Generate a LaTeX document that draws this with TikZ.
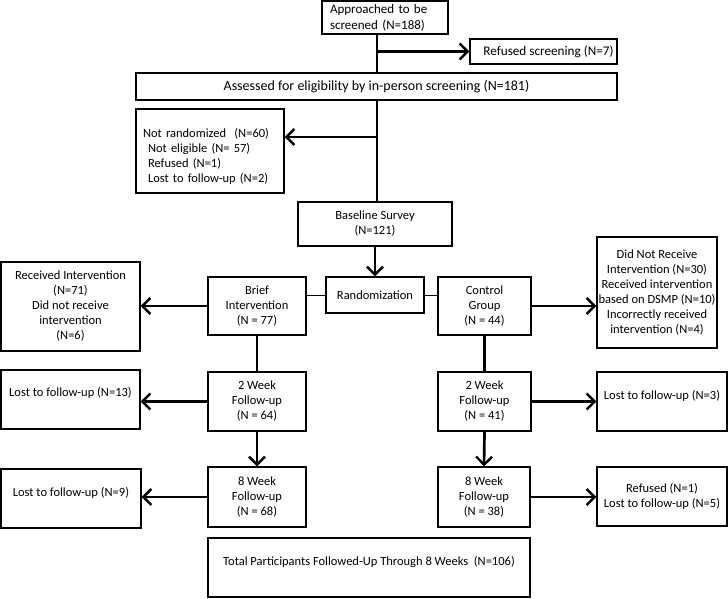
\documentclass[tikz,border=0pt]{standalone}
\usepackage{fontspec}
\setmainfont{Carlito}
\usetikzlibrary{arrows.meta}
\begin{document}
\begin{tikzpicture}[x=1pt,y=-1pt,
  box/.style={draw, line width=1.3pt, inner sep=0pt, align=center,
              font=\fontsize{12.5}{15}\selectfont},
  conn/.style={line width=2.7pt},
  arr/.style={conn, -{Straight Barb[length=8pt,width=16pt,line width=2.4pt]}},
  thinconn/.style={line width=1pt}]
\useasboundingbox (0,0) rectangle (728,598);
% boxes
\node[box, minimum width=126pt, minimum height=33pt, align=left, text width=110pt, font=\fontsize{13}{16}\selectfont] (top) at (385,17.5) {Approached to be\\screened (N=188)};
\node[box, minimum width=147pt, minimum height=25pt, font=\fontsize{13.2}{15}\selectfont] (refused) at (543.5,51.5) {\hspace*{10pt}Refused screening (N=7)};
\node[box, minimum width=481pt, minimum height=27pt, font=\fontsize{14}{15}\selectfont] (assess) at (376.5,86.5) {Assessed for eligibility by in-person screening (N=181)};
\node[box, minimum width=148pt, minimum height=84pt, align=left, text width=134pt] (nr) at (210,151) {\rule{0pt}{21pt}Not randomized~~(N=60)\\\hspace*{5pt}Not eligible (N= 57)\\\hspace*{5pt}Refused (N=1)\\\hspace*{5pt}Lost to follow-up (N=2)};
\node[box, minimum width=154pt, minimum height=44pt] (baseline) at (375,224) {Baseline Survey\\(N=121)};
\node[box, minimum width=98pt, minimum height=36pt] (rand) at (375,295) {Randomization};
\node[box, minimum width=98pt, minimum height=58pt] (brief) at (257,306) {Brief\\Intervention\\(N = 77)};
\node[box, minimum width=93pt, minimum height=58pt] (control) at (484.5,306) {Control\\Group\\(N = 44)};
\node[box, minimum width=139pt, minimum height=89pt] (recv) at (70.5,306.5) {Received Intervention\\(N=71)\\Did not receive\\intervention\\(N=6)};
\node[box, minimum width=120pt, minimum height=111pt] (dnr) at (657,292.5) {Did Not Receive\\Intervention (N=30)\\Received intervention\\based on DSMP (N=10)\\Incorrectly received\\intervention (N=4)};
\node[box, minimum width=98pt, minimum height=59pt] (wkl) at (257,401.5) {2 Week\\Follow-up\\(N = 64)};
\node[box, minimum width=139pt, minimum height=59pt, align=none, text depth=15pt] (lostl) at (70.5,399.5) {Lost to follow-up (N=13)};
\node[box, minimum width=93pt, minimum height=59pt] (wkr) at (484.5,401.5) {2 Week\\Follow-up\\(N = 41)};
\node[box, minimum width=130pt, minimum height=59pt, align=none, text depth=14pt] (lostr) at (662,401.5) {Lost to follow-up (N=3)};
\node[box, minimum width=98pt, minimum height=60pt] (wel) at (257,497) {8 Week\\Follow-up\\(N = 68)};
\node[box, minimum width=140pt, minimum height=59pt, align=none, text depth=13pt] (lostel) at (71,498.5) {Lost to follow-up (N=9)};
\node[box, minimum width=92pt, minimum height=60pt] (wer) at (484,497) {8 Week\\Follow-up\\(N = 38)};
\node[box, minimum width=130pt, minimum height=59pt] (refr) at (662,496.5) {Refused (N=1)\\Lost to follow-up (N=5)};
\node[box, minimum width=322pt, minimum height=59pt, align=none, text depth=14pt] (total) at (369,567.5) {Total Participants Followed-Up Through 8 Weeks~~(N=106)};
% connectors
\coordinate (v) at (377,0);
\coordinate (b2) at (377,137);
\draw[conn] (top.south -| v) -- (assess.north -| v);
\draw[arr] (v |- refused.west) -- (refused.west);
\draw[conn] (assess.south -| v) -- (baseline.north -| v);
\draw[arr] (b2) -- (b2 -| nr.east);
\draw[arr] (baseline.south) -- (rand.north);
\draw[thinconn] (rand.west) -- (brief.east |- rand.west);
\draw[thinconn] (rand.east) -- (control.west |- rand.east);
\draw[arr] (brief.west) -- (recv.east |- brief.west);
\draw[arr] (control.east) -- (dnr.west |- control.east);
\draw[conn] (brief.south) -- (wkl.north);
\draw[arr] (wkl.west) -- (lostl.east |- wkl.west);
\draw[arr] (wkl.south) -- (wel.north);
\draw[arr] (wel.west) -- (lostel.east |- wel.west);
\draw[conn] (control.south) -- (wkr.north);
\draw[arr] (wkr.east) -- (lostr.west |- wkr.east);
\draw[arr] (wkr.south) -- (wer.north);
\draw[arr] (wer.east) -- (refr.west |- wer.east);
\end{tikzpicture}
\end{document}
